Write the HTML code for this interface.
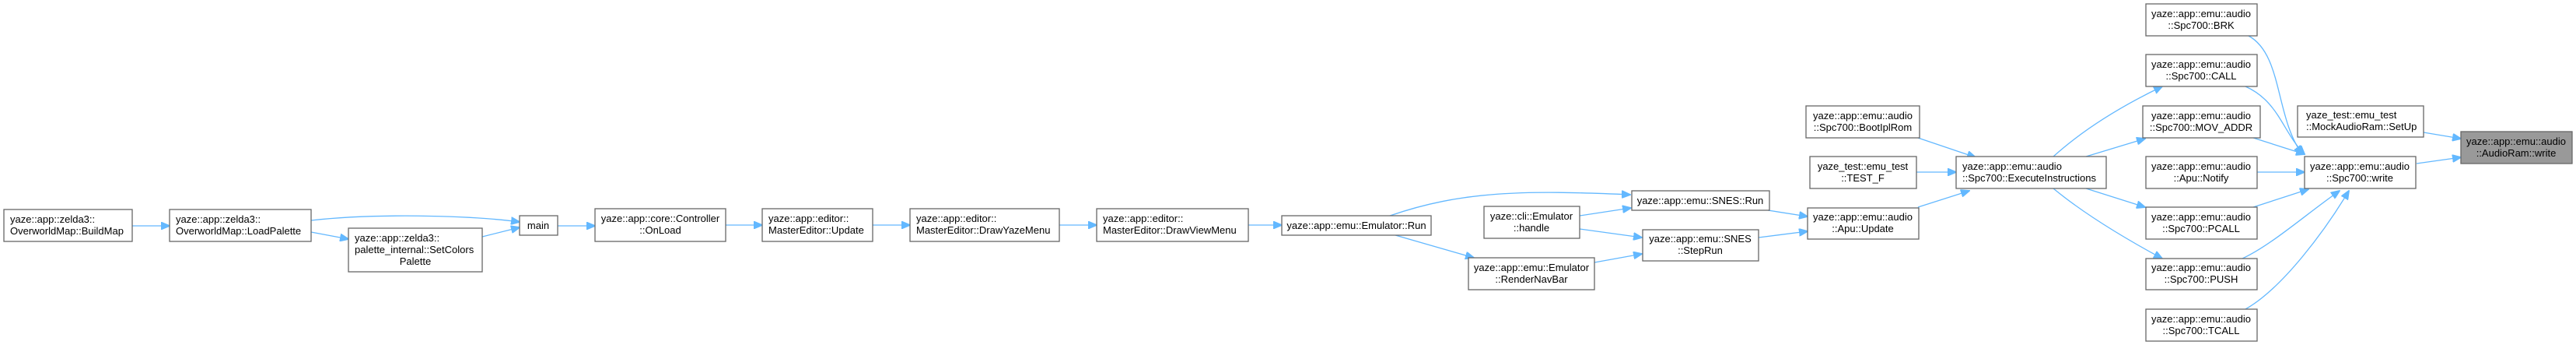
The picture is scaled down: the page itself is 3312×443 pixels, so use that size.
<!DOCTYPE html>
<html><head><meta charset="utf-8"><style>
html,body{margin:0;padding:0;background:#fff;}
svg{display:block;}
text{font-family:"Liberation Sans",Arial,sans-serif;font-size:13px;fill:#000;}
.n{fill:#fff;stroke:#666;stroke-width:1.3;}
.g{fill:#999;stroke:#666;stroke-width:1.3;}
.e{fill:none;stroke:#63b8ff;stroke-width:1.3;}
</style></head><body>
<svg width="3312" height="443" viewBox="0 0 3312 443" xmlns="http://www.w3.org/2000/svg">
<defs><marker id="a" markerWidth="12" markerHeight="10" refX="11" refY="5" orient="auto" markerUnits="userSpaceOnUse"><path d="M0,0 L12,5 L0,10 Z" fill="#63b8ff" stroke="#63b8ff"/></marker></defs>
<g marker-end="url(#a)">
<path class="e" d="M170,290 L218,290"/>
<path class="e" d="M400,283 C480,274 600,276 668,285"/>
<path class="e" d="M400,298 L448,307"/>
<path class="e" d="M620,304 L668,292"/>
<path class="e" d="M717,290 L765,290"/>
<path class="e" d="M933,289 L980,289"/>
<path class="e" d="M1122,289 L1170,289"/>
<path class="e" d="M1362,289 L1410,289"/>
<path class="e" d="M1605,289 L1648,289"/>
<path class="e" d="M1787,277 C1880,245 1960,244 2096,250"/>
<path class="e" d="M1794,302 L1895,331"/>
<path class="e" d="M2031,277 L2097,267"/>
<path class="e" d="M2031,294 L2111,305"/>
<path class="e" d="M2050,337 L2111,326"/>
<path class="e" d="M2273,270 L2324,278"/>
<path class="e" d="M2261,305 L2324,297"/>
<path class="e" d="M2466,266 L2532,245"/>
<path class="e" d="M2466,177 L2540,202"/>
<path class="e" d="M2464,221 L2515,221"/>
<path class="e" d="M2640,201 C2680,165 2730,135 2780,111"/>
<path class="e" d="M2682,201 L2758,178"/>
<path class="e" d="M2682,242 L2758,266"/>
<path class="e" d="M2640,242 C2680,275 2730,305 2780,332"/>
<path class="e" d="M2891,46 C2935,70 2925,150 2960,198"/>
<path class="e" d="M2887,111 C2930,130 2935,170 2963,198"/>
<path class="e" d="M2897,177 L2963,198"/>
<path class="e" d="M2902,221 L2963,221"/>
<path class="e" d="M2897,266 L2968,243"/>
<path class="e" d="M2883,332 C2920,315 2965,275 3008,245"/>
<path class="e" d="M2887,397 C2935,370 2990,295 3020,245"/>
<path class="e" d="M3116,170 L3164,178"/>
<path class="e" d="M3107,210 L3164,202"/>
</g>
<!-- nodes -->
<rect class="n" x="5" y="269" width="165" height="41"/>
<text x="13" y="286">yaze::app::zelda3::</text><text x="13" y="301">OverworldMap::BuildMap</text>
<rect class="n" x="218" y="269" width="182" height="41"/>
<text x="226" y="286">yaze::app::zelda3::</text><text x="226" y="301">OverworldMap::LoadPalette</text>
<rect class="n" x="448" y="293" width="172" height="56"/>
<text x="456" y="310">yaze::app::zelda3::</text><text x="456" y="325">palette_internal::SetColors</text><text x="534" y="340" text-anchor="middle">Palette</text>
<rect class="n" x="668" y="277" width="49" height="25"/>
<text x="692" y="294" text-anchor="middle">main</text>
<rect class="n" x="765" y="268" width="168" height="42"/>
<text x="849" y="285" text-anchor="middle">yaze::app::core::Controller</text><text x="849" y="300" text-anchor="middle">::OnLoad</text>
<rect class="n" x="980" y="268" width="142" height="42"/>
<text x="988" y="285">yaze::app::editor::</text><text x="988" y="300">MasterEditor::Update</text>
<rect class="n" x="1170" y="268" width="192" height="42"/>
<text x="1178" y="285">yaze::app::editor::</text><text x="1178" y="300">MasterEditor::DrawYazeMenu</text>
<rect class="n" x="1410" y="268" width="195" height="42"/>
<text x="1418" y="285">yaze::app::editor::</text><text x="1418" y="300">MasterEditor::DrawViewMenu</text>
<rect class="n" x="1648" y="277" width="192" height="25"/>
<text x="1744" y="294" text-anchor="middle">yaze::app::emu::Emulator::Run</text>
<rect class="n" x="1908" y="265" width="123" height="41"/>
<text x="1969" y="282" text-anchor="middle">yaze::cli::Emulator</text><text x="1969" y="297" text-anchor="middle">::handle</text>
<rect class="n" x="1888" y="331" width="162" height="41"/>
<text x="1969" y="348" text-anchor="middle">yaze::app::emu::Emulator</text><text x="1969" y="363" text-anchor="middle">::RenderNavBar</text>
<rect class="n" x="2098" y="245" width="177" height="25"/>
<text x="2186" y="262" text-anchor="middle">yaze::app::emu::SNES::Run</text>
<rect class="n" x="2112" y="295" width="149" height="40"/>
<text x="2186" y="311" text-anchor="middle">yaze::app::emu::SNES</text><text x="2186" y="326" text-anchor="middle">::StepRun</text>
<rect class="n" x="2324" y="267" width="143" height="40"/>
<text x="2395" y="283" text-anchor="middle">yaze::app::emu::audio</text><text x="2395" y="298" text-anchor="middle">::Apu::Update</text>
<rect class="n" x="2322" y="136" width="146" height="41"/>
<text x="2395" y="153" text-anchor="middle">yaze::app::emu::audio</text><text x="2395" y="168" text-anchor="middle">::Spc700::BootIplRom</text>
<rect class="n" x="2327" y="201" width="137" height="41"/>
<text x="2395" y="218" text-anchor="middle">yaze_test::emu_test</text><text x="2395" y="233" text-anchor="middle">::TEST_F</text>
<rect class="n" x="2515" y="201" width="193" height="41"/>
<text x="2523" y="218">yaze::app::emu::audio</text><text x="2523" y="233">::Spc700::ExecuteInstructions</text>
<rect class="n" x="2759" y="5" width="143" height="41"/>
<text x="2830" y="22" text-anchor="middle">yaze::app::emu::audio</text><text x="2830" y="37" text-anchor="middle">::Spc700::BRK</text>
<rect class="n" x="2759" y="70" width="143" height="41"/>
<text x="2830" y="87" text-anchor="middle">yaze::app::emu::audio</text><text x="2830" y="102" text-anchor="middle">::Spc700::CALL</text>
<rect class="n" x="2755" y="136" width="151" height="41"/>
<text x="2830" y="153" text-anchor="middle">yaze::app::emu::audio</text><text x="2830" y="168" text-anchor="middle">::Spc700::MOV_ADDR</text>
<rect class="n" x="2759" y="201" width="143" height="41"/>
<text x="2830" y="218" text-anchor="middle">yaze::app::emu::audio</text><text x="2830" y="233" text-anchor="middle">::Apu::Notify</text>
<rect class="n" x="2759" y="266" width="143" height="41"/>
<text x="2830" y="283" text-anchor="middle">yaze::app::emu::audio</text><text x="2830" y="298" text-anchor="middle">::Spc700::PCALL</text>
<rect class="n" x="2759" y="332" width="143" height="40"/>
<text x="2830" y="348" text-anchor="middle">yaze::app::emu::audio</text><text x="2830" y="363" text-anchor="middle">::Spc700::PUSH</text>
<rect class="n" x="2759" y="397" width="143" height="41"/>
<text x="2830" y="414" text-anchor="middle">yaze::app::emu::audio</text><text x="2830" y="429" text-anchor="middle">::Spc700::TCALL</text>
<rect class="n" x="2963" y="201" width="143" height="41"/>
<text x="3034" y="218" text-anchor="middle">yaze::app::emu::audio</text><text x="3034" y="233" text-anchor="middle">::Spc700::write</text>
<rect class="n" x="2954" y="136" width="162" height="40"/>
<text x="2965" y="152">yaze_test::emu_test</text><text x="2965" y="167">::MockAudioRam::SetUp</text>
<rect class="g" x="3164" y="169" width="143" height="41"/>
<text x="3235" y="186" text-anchor="middle">yaze::app::emu::audio</text><text x="3235" y="201" text-anchor="middle">::AudioRam::write</text>
</svg>
</body></html>
